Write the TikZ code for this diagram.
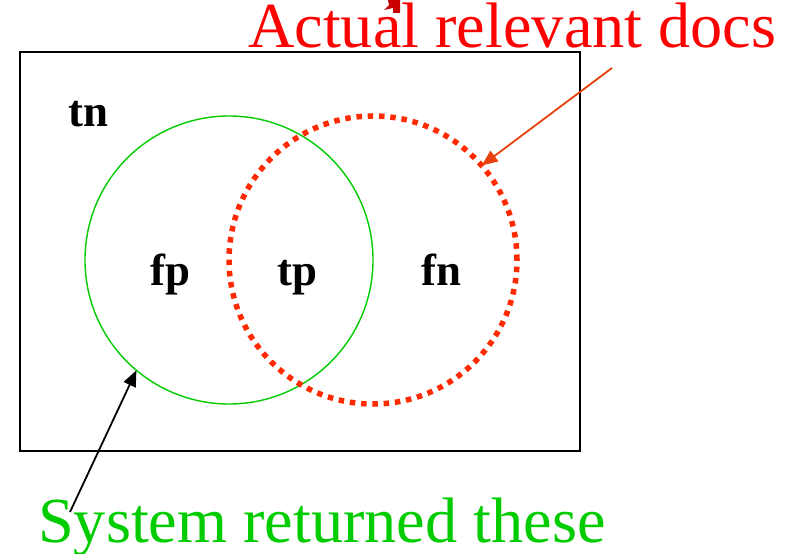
\documentclass[tikz,border=0pt]{standalone}
\usepackage{fontspec}
\setmainfont{Liberation Serif}
\usetikzlibrary{arrows.meta}
\definecolor{retGreen}{HTML}{00CC00}
\definecolor{relRed}{HTML}{FF0000}
\definecolor{dotRed}{HTML}{FF2A00}
\definecolor{pointerRed}{HTML}{E8400C}
\definecolor{markRed}{HTML}{C80000}

\begin{document}
\begin{tikzpicture}[
    x=1bp, y=-1bp,
    setCircle/.style={circle, inner sep=0pt, outer sep=0pt, minimum size=288bp},
    cellLabel/.style={font=\fontsize{45}{50}\selectfont\bfseries, anchor=base west, inner sep=0pt},
    setCaption/.style={font=\fontsize{64.5}{70}\selectfont, anchor=base west, inner sep=0pt},
    arrow/.style={-{Triangle[length=16bp,width=13bp]}, line width=1.8bp}
]
\useasboundingbox (0,0) rectangle (793,554);

\fill[markRed] (388,0) -- (400,0) -- (400,13) -- (393,13) -- (393,8) -- (384,10) -- (389,5) -- cycle;

\draw[line width=2bp] (20,52) rectangle (580,451);

\node[setCircle, draw=retGreen, line width=1.4bp] (ret) at (229,260) {};
\node[setCircle, draw=dotRed, line width=5.5bp, dash pattern=on 5.5bp off 5.8bp] (rel) at (373,260) {};

\node[cellLabel] (tn) at (68,127) {tn};
\node[cellLabel] (fp) at (150,286) {fp};
\node[cellLabel] (tp) at (277,286) {tp};
\node[cellLabel] (fn) at (421,286) {fn};

\node[setCaption, text=relRed] (relCap) at (248,48) {Actual relevant docs};
\node[setCaption, text=retGreen] (retCap) at (38,542) {System returned these};

\coordinate (relFoot) at (612,68);
\coordinate (retFoot) at (70,512);

\draw[arrow, pointerRed] (relFoot) -- (rel.41);
\draw[arrow, black] (retFoot) -- (ret.230);

\end{tikzpicture}
\end{document}
